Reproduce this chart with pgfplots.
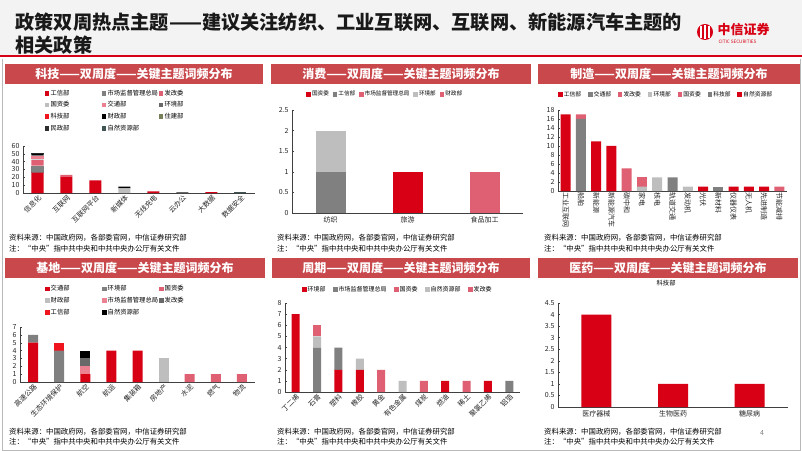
\documentclass[border=0pt]{standalone}
\usepackage{fontspec}
\setmainfont{Noto Sans CJK SC}
\usepackage{pgfplots}
\pgfplotsset{compat=1.18}
\definecolor{cred}{RGB}{215,0,20}
\definecolor{cred2}{RGB}{240,20,30}
\definecolor{cgray}{RGB}{128,128,128}
\definecolor{cdgray}{RGB}{105,105,105}
\definecolor{cpink}{RGB}{224,96,115}
\definecolor{cpink2}{RGB}{236,130,145}
\definecolor{clgray}{RGB}{190,190,190}
\definecolor{colive}{RGB}{118,128,88}
\definecolor{cmin}{RGB}{45,45,45}
\definecolor{cnat}{RGB}{65,85,85}
\definecolor{barbg}{RGB}{200,72,76}
\definecolor{hdrbg}{RGB}{243,243,243}
\newcommand\fs[1]{\fontsize{#1}{#1}\selectfont}
\pgfplotsset{
 panel/.style={
  scale only axis, ybar stacked, anchor=south west,
  axis x line*=bottom, axis y line*=left,
  axis line style={black!75, line width=0.5pt},
  ymin=0, xmin=-0.5,
  x tick style={draw=none}, y tick style={black!75, line width=0.4pt},
  major tick length=2bp,
  tick label style={font=\fs{7bp}, text=black!85},
  /pgf/number format/assume math mode=true,
  every axis plot post/.append style={draw=none, legend image code/.code={\fill[##1] (0bp,-2.3bp) rectangle (4.6bp,2.3bp);}},
  legend style={draw=none, fill=none, font=\fs{6.3bp}, anchor=north west, inner sep=0pt, outer sep=0pt},
  legend cell align=left,
 },
 rot45/.style={xticklabel style={rotate=45, anchor=north east, inner sep=1bp}},
}
\newcommand\bartitle[3]{\fill[barbg] #1 rectangle #2; \node[text=white, font=\bfseries\fs{12bp}] at ($#1!0.5!#2$) {#3};}
\usetikzlibrary{calc}
\begin{document}
\begin{tikzpicture}
\begin{scope}[x=1bp,y=-1bp]
\path[use as bounding box, fill=white] (0,0) rectangle (802,451);
% header
\fill[hdrbg] (0,0) rectangle (802,56);
\fill[cred] (0,55.5) rectangle (802,57.5);
\node[anchor=west, font=\bfseries\fs{19.2bp}, text=black!90] at (12,22) {政策双周热点主题——建议关注纺织、工业互联网、互联网、新能源汽车主题的};
\node[anchor=west, font=\bfseries\fs{19.2bp}, text=black!90] at (12,45) {相关政策};
\fill[cred] (705,32) circle (8);
\draw[white, line width=1.1] (701,26)--(701,38) (705,25)--(705,39) (709,26)--(709,38);
\node[anchor=west, text=cred, font=\bfseries\fs{13bp}] at (714,30) {中信证券};
\node[anchor=west, text=cred, font=\fs{4.6bp}] at (715,41.5) {CITIC SECURITIES};
% frame
\draw[gray!55, line width=0.6] (2.5,59.5) -- (2.5,450) -- (800,450) -- (800,59.5);
% title bars
\bartitle{(5,64)}{(263,84)}{科技——双周度——关键主题词频分布}
\bartitle{(271,64)}{(531,84)}{消费——双周度——关键主题词频分布}
\bartitle{(538,64)}{(800,84)}{制造——双周度——关键主题词频分布}
\bartitle{(5,258)}{(265,278)}{基地——双周度——关键主题词频分布}
\bartitle{(272,258)}{(530,278)}{周期——双周度——关键主题词频分布}
\bartitle{(538,258)}{(798,278)}{医药——双周度——关键主题词频分布}
% footnotes
\begin{scope}
\clip (0,60) rectangle (802,252);
\foreach \xx in {9,277,544}{
\node[anchor=west, font=\fs{7.4bp}, inner sep=0pt] at (\xx,238) {资料来源：中国政府网，各部委官网，中信证券研究部};
\node[anchor=west, font=\fs{7.4bp}, inner sep=0pt] at (\xx,248.5) {注：“中央”指中共中央和中共中央办公厅有关文件};
}
\end{scope}
\foreach \xx in {9,277,544}{
\node[anchor=west, font=\fs{7.4bp}, inner sep=0pt] at (\xx,432) {资料来源：中国政府网，各部委官网，中信证券研究部};
\node[anchor=west, font=\fs{7.4bp}, inner sep=0pt] at (\xx,441.5) {注：“中央”指中共中央和中共中央办公厅有关文件};
}
\node[text=gray, font=\fs{7bp}] at (762,433) {4};
\end{scope}

% ---------- Panel 1: 科技
\begin{axis}[panel, rot45, at={(23bp,-193bp)}, width=232bp, height=47bp, xmax=7.5, xtick={0,...,7},
 ymax=60, ytick={0,10,20,30,40,50,60}, bar width=12bp,
 xticklabels={信息化,互联网,互联网平台,新媒体,无线充电,云办公,大数据,数据安全},
 legend columns=3, legend style={at={(0.094,2.22)}, nodes={text width=50bp, align=left, inner sep=1.2bp}, row sep=2.5bp}]
\addplot[fill=cred] coordinates {(0,26)(1,21)(2,16)(3,0)(4,2)(5,0)(6,1)(7,0)};
\addplot[fill=cgray] coordinates {(0,9)(1,0)(2,0)(3,0)(4,0)(5,0)(6,0)(7,0)};
\addplot[fill=cpink] coordinates {(0,7)(1,2)(2,0)(3,0)(4,0)(5,0)(6,0)(7,0)};
\addplot[fill=clgray] coordinates {(0,1)(1,0)(2,0)(3,6)(4,0)(5,0)(6,0)(7,0)};
\addplot[fill=cpink2] coordinates {(0,4)(1,0)(2,0)(3,0)(4,0)(5,0)(6,0)(7,0)};
\addplot[fill=cdgray] coordinates {(0,1)(1,0)(2,0)(3,0)(4,0)(5,1)(6,0)(7,0)};
\addplot[fill=cred2] coordinates {(0,0)(1,0)(2,0)(3,0)(4,0)(5,0)(6,0)(7,0)};
\addplot[fill=black] coordinates {(0,2)(1,0)(2,0)(3,2)(4,0)(5,0)(6,0)(7,0)};
\addplot[fill=colive] coordinates {(0,0)(1,0)(2,0)(3,0)(4,0)(5,0)(6,0)(7,0)};
\addplot[fill=cmin] coordinates {(0,1)(1,0)(2,0)(3,0)(4,0)(5,0)(6,0)(7,0)};
\addplot[fill=cnat] coordinates {(0,0)(1,0)(2,0)(3,0)(4,0)(5,0)(6,0)(7,1)};
\legend{工信部,市场监督管理总局,发改委,国资委,交通部,环境部,科技部,财政部,住建部,民政部,自然资源部}
\end{axis}

% ---------- Panel 2: 消费
\begin{axis}[panel, at={(292bp,-213bp)}, width=231bp, height=103bp, xmax=2.5, xtick={0,1,2},
 ymax=2.5, ytick={0,0.5,1,1.5,2,2.5}, bar width=30bp,
 xticklabels={纺织,旅游,食品加工},
 legend columns=5, legend style={at={(0.062,1.194)}, font=\fs{5.6bp}, nodes={inner sep=1.2bp}, /tikz/every even column/.append style={column sep=2.5bp}}]
\addplot[fill=cred] coordinates {(0,0)(1,1)(2,0)};
\addplot[fill=cgray] coordinates {(0,1)(1,0)(2,0)};
\addplot[fill=cpink] coordinates {(0,0)(1,0)(2,1)};
\addplot[fill=clgray] coordinates {(0,1)(1,0)(2,0)};
\addplot[fill=cpink] coordinates {(0,0)(1,0)(2,0)};
\legend{国资委,工信部,市场监督管理总局,环境部,财政部}
\end{axis}

% ---------- Panel 3: 制造
\begin{axis}[panel, at={(558bp,-191bp)}, width=229bp, height=81bp, xmax=14.5, xtick={0,...,14},
 ymax=18, ytick={0,2,4,6,8,10,12,14,16,18}, bar width=10bp,
 xticklabels={工业互联网,船舶,新能源,新能源汽车,碳中和,家电,核电,轨道交通,发动机,光伏,新材料,仪器仪表,无人机,先进制造,节能减排},
 xticklabel style={rotate=-90, anchor=west, inner sep=1.5bp},
 legend columns=7, legend style={at={(0.0,1.247)}, font=\fs{5.8bp}, nodes={inner sep=1.2bp}, /tikz/every even column/.append style={column sep=5.5bp}}]
\addplot[fill=cred] coordinates {(0,17)(1,0)(2,11)(3,10)(4,0)(5,0)(6,0)(7,0)(8,0)(9,1)(10,0)(11,1)(12,1)(13,1)(14,0)};
\addplot[fill=cgray] coordinates {(0,0)(1,16)(2,0)(3,0)(4,0)(5,0)(6,0)(7,3)(8,0)(9,0)(10,0)(11,0)(12,0)(13,0)(14,0)};
\addplot[fill=cpink] coordinates {(0,0)(1,1)(2,0)(3,0)(4,5)(5,0)(6,0)(7,0)(8,0)(9,0)(10,0)(11,0)(12,0)(13,0)(14,1)};
\addplot[fill=clgray] coordinates {(0,0)(1,0)(2,0)(3,0)(4,0)(5,1)(6,3)(7,0)(8,1)(9,0)(10,0)(11,0)(12,0)(13,0)(14,0)};
\addplot[fill=cpink] coordinates {(0,0)(1,0)(2,0)(3,0)(4,0)(5,2)(6,0)(7,0)(8,0)(9,0)(10,0)(11,0)(12,0)(13,0)(14,0)};
\addplot[fill=cgray] coordinates {(0,0)(1,0)(2,0)(3,0)(4,0)(5,0)(6,0)(7,0)(8,0)(9,0)(10,1)(11,0)(12,0)(13,0)(14,0)};
\addplot[fill=cred] coordinates {(0,0)(1,0)(2,0)(3,0)(4,0)(5,0)(6,0)(7,0)(8,0)(9,0)(10,0)(11,0)(12,0)(13,0)(14,0)};
\legend{工信部,交通部,发改委,环境部,国资委,科技部,自然资源部}
\end{axis}

% ---------- Panel 4: 基地
\begin{axis}[panel, rot45, at={(20bp,-382bp)}, width=235bp, height=55bp, xmax=8.5, xtick={0,...,8},
 ymax=7, ytick={0,1,2,3,4,5,6,7}, bar width=10bp,
 xticklabels={高速公路,生态环境保护,航空,航运,集装箱,房地产,水泥,燃气,物流},
 legend columns=3, legend style={at={(0.106,1.775)}, nodes={text width=50bp, align=left, inner sep=1.2bp}, row sep=2.5bp}]
\addplot[fill=cred] coordinates {(0,5)(1,0)(2,1)(3,4)(4,4)(5,0)(6,0)(7,0)(8,0)};
\addplot[fill=cgray] coordinates {(0,1)(1,4)(2,0)(3,0)(4,0)(5,0)(6,0)(7,0)(8,0)};
\addplot[fill=cpink] coordinates {(0,0)(1,0)(2,0)(3,0)(4,0)(5,0)(6,1)(7,1)(8,1)};
\addplot[fill=clgray] coordinates {(0,0)(1,0)(2,0)(3,0)(4,0)(5,3)(6,0)(7,0)(8,0)};
\addplot[fill=cpink2] coordinates {(0,0)(1,0)(2,1)(3,0)(4,0)(5,0)(6,0)(7,0)(8,0)};
\addplot[fill=cdgray] coordinates {(0,0)(1,0)(2,1)(3,0)(4,0)(5,0)(6,0)(7,0)(8,0)};
\addplot[fill=cred2] coordinates {(0,0)(1,1)(2,0)(3,0)(4,0)(5,0)(6,0)(7,0)(8,0)};
\addplot[fill=black] coordinates {(0,0)(1,0)(2,1)(3,0)(4,0)(5,0)(6,0)(7,0)(8,0)};
\legend{交通部,环境部,国资委,财政部,市场监督管理总局,发改委,工信部,自然资源部}
\end{axis}

% ---------- Panel 5: 周期
\begin{axis}[panel, rot45, at={(285bp,-392bp)}, width=235bp, height=89bp, xmax=10.5, xtick={0,...,10},
 ymax=8, ytick={0,1,2,3,4,5,6,7,8}, bar width=8bp,
 xticklabels={丁二烯,石膏,塑料,橡胶,黄金,有色金属,煤炭,燃油,稀土,聚氯乙烯,铝箔},
 legend columns=5, legend style={at={(0.072,1.202)}, font=\fs{6bp}, nodes={inner sep=1.2bp}, /tikz/every even column/.append style={column sep=6bp}}]
\addplot[fill=cred] coordinates {(0,7)(1,0)(2,2)(3,2)(4,0)(5,0)(6,0)(7,1)(8,0)(9,1)(10,0)};
\addplot[fill=cgray] coordinates {(0,0)(1,4)(2,2)(3,0)(4,0)(5,0)(6,0)(7,0)(8,0)(9,0)(10,1)};
\addplot[fill=cpink] coordinates {(0,0)(1,0)(2,0)(3,0)(4,2)(5,0)(6,1)(7,0)(8,1)(9,0)(10,0)};
\addplot[fill=clgray] coordinates {(0,0)(1,1)(2,0)(3,1)(4,0)(5,1)(6,0)(7,0)(8,0)(9,0)(10,0)};
\addplot[fill=cpink] coordinates {(0,0)(1,1)(2,0)(3,0)(4,0)(5,0)(6,0)(7,0)(8,0)(9,0)(10,0)};
\legend{环境部,市场监督管理总局,国资委,自然资源部,发改委}
\end{axis}

% ---------- Panel 6: 医药
\begin{axis}[panel, at={(558bp,-407bp)}, width=230bp, height=104bp, xmax=2.5, xtick={0,1,2},
 ymax=4.5, ytick={0,0.5,1,1.5,2,2.5,3,3.5,4,4.5}, bar width=30bp,
 xticklabels={医疗器械,生物医药,糖尿病},
 title={科技部}, title style={at={(0.47,1.135)}, anchor=center, font=\fs{6.3bp}}]
\addplot[fill=cred] coordinates {(0,4)(1,1)(2,1)};
\end{axis}
\end{tikzpicture}
\end{document}
